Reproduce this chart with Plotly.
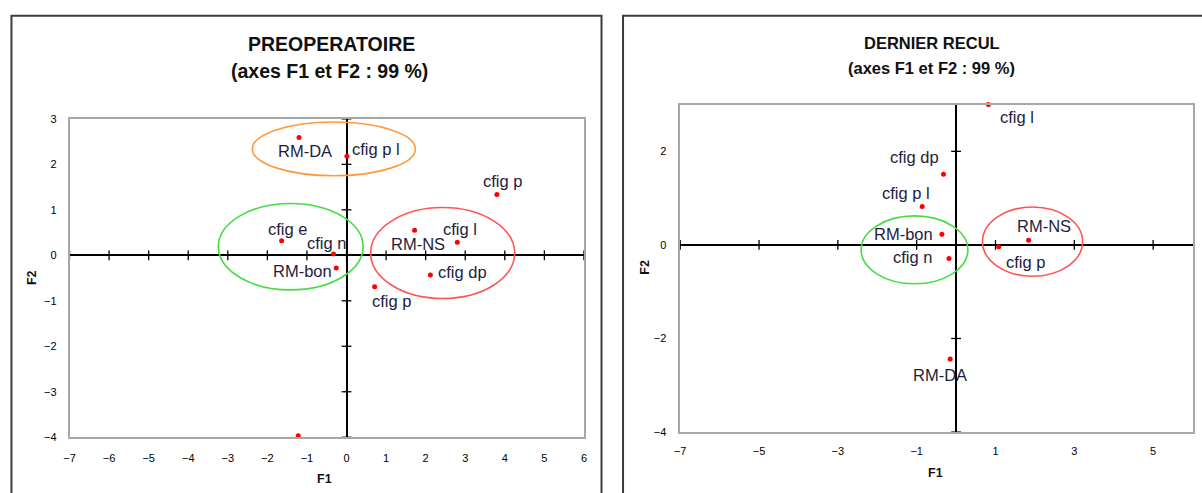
import plotly.graph_objects as go

# ---------------- data ----------------
pre_labels = ["RM-DA", "cfig p l", "cfig p", "cfig e", "cfig n", "RM-bon",
              "RM-NS", "cfig l", "cfig dp", "cfig p", ""]
pre_f1 = [-1.20, 0.01, 3.80, -1.64, -0.33, -0.26, 1.72, 2.80, 2.12, 0.71, -1.22]
pre_f2 = [2.59, 2.18, 1.34, 0.32, 0.03, -0.28, 0.55, 0.29, -0.43, -0.69, -3.97]

rec_labels = ["cfig l", "cfig dp", "cfig p l", "RM-bon", "cfig n", "RM-NS",
              "cfig p", "RM-DA"]
rec_f1 = [0.82, -0.32, -0.86, -0.36, -0.18, 1.84, 1.08, -0.15]
rec_f2 = [3.00, 1.51, 0.82, 0.23, -0.29, 0.10, -0.04, -2.44]

pre_xticks = [-7, -6, -5, -4, -3, -2, -1, 0, 1, 2, 3, 4, 5, 6]
pre_yticks = [-4, -3, -2, -1, 0, 1, 2, 3]
rec_xticks = [-7, -5, -3, -1, 1, 3, 5]
rec_yticks = [-4, -2, 0, 2]

# group ellipses: (x0, x1, y0, y1)
pre_groups = {"orange": (-2.38, 1.74, 1.75, 2.93),
              "green": (-3.24, 0.42, -0.76, 1.14),
              "red": (0.61, 4.25, -0.95, 1.05)}
rec_groups = {"green": (-2.41, 0.30, -0.83, 0.62),
              "red": (0.67, 3.21, -0.67, 0.81)}

# ---------------- styles ----------------
W, H = 1202, 493
pre_offsets = [(6, -13), (29, 7), (6, 13), (6, 12), (-7, 11), (-34, -3),
               (3, -14), (3, 13), (32, 3), (17, -14), (0, 0)]
rec_offsets = [(29, -12), (-29, 17), (-16, 14), (-38, 0), (-36, 1),
               (15, 14), (27, -15), (-10, -16)]
ell_colors = {"orange": "#ff9940", "green": "#44dd44", "red": "#ff5555"}
FONT = "Liberation Sans, Arial, sans-serif"
LABEL_COLOR = "#1e1e3a"

fig = go.Figure()


def add_panel(fx, fy, labels, offsets, xticks, yticks, xa, ya, groups):
    fig.add_trace(go.Scatter(x=xticks, y=[0] * len(xticks), mode="markers",
                             xaxis=xa, yaxis=ya, hoverinfo="skip", cliponaxis=False,
                             marker=dict(symbol="line-ns", size=7,
                                         line=dict(color="black", width=1.3))))
    fig.add_trace(go.Scatter(x=[0] * len(yticks), y=yticks, mode="markers",
                             xaxis=xa, yaxis=ya, hoverinfo="skip", cliponaxis=False,
                             marker=dict(symbol="line-ew", size=7,
                                         line=dict(color="black", width=1.3))))
    fig.add_trace(go.Scatter(x=fx, y=fy, mode="markers", text=labels,
                             xaxis=xa, yaxis=ya, cliponaxis=False,
                             marker=dict(color="#ff0000", size=5)))
    for xv, yv, t, (dx, dy) in zip(fx, fy, labels, offsets):
        if t:
            fig.add_annotation(x=xv, y=yv, xref=xa, yref=ya, text=t,
                               showarrow=False, xshift=dx, yshift=dy,
                               xanchor="center", yanchor="middle",
                               font=dict(family=FONT, size=16.5, color=LABEL_COLOR))
    for name, (x0, x1, y0, y1) in groups.items():
        fig.add_shape(type="circle", xref=xa, yref=ya, x0=x0, x1=x1, y0=y0, y1=y1,
                      line=dict(color=ell_colors[name], width=1.6))


add_panel(pre_f1, pre_f2, pre_labels, pre_offsets, pre_xticks, pre_yticks,
          "x", "y", pre_groups)
add_panel(rec_f1, rec_f2, rec_labels, rec_offsets, rec_xticks, rec_yticks,
          "x2", "y2", rec_groups)

axis_common = dict(showgrid=False, zeroline=True, zerolinecolor="black",
                   zerolinewidth=1.5, showline=True, mirror=True,
                   linecolor="#a8a8a8", linewidth=1.5, ticks="outside",
                   tickcolor="rgba(0,0,0,0)",
                   tickfont=dict(family=FONT, size=11, color="black"),
                   fixedrange=True)

fig.update_layout(
    width=W, height=H, margin=dict(l=0, r=0, t=0, b=0),
    paper_bgcolor="white", plot_bgcolor="white", showlegend=False,
    xaxis=dict(axis_common, domain=[64 / W, 582.3 / W], range=[-7, 6],
               tickvals=pre_xticks, ticklen=10, anchor="y"),
    yaxis=dict(axis_common, domain=[1 - 442 / H, 1 - 115.7 / H], range=[-4, 3],
               tickvals=pre_yticks, ticklen=9, anchor="x"),
    xaxis2=dict(axis_common, domain=[679.3 / W, 1195.5 / W], range=[-7, 6],
                tickvals=rec_xticks, ticklen=8, anchor="y2"),
    yaxis2=dict(axis_common, domain=[1 - 436.7 / H, 1 - 101 / H], range=[-4, 3],
                tickvals=rec_yticks, ticklen=10, anchor="x2"),
)

# panel frames
box = dict(color="#3c3c3c", width=2)
fig.add_shape(type="rect", xref="paper", yref="paper",
              x0=5.5 / W, x1=600 / W, y0=-0.1, y1=1 - 10 / H, line=box)
fig.add_shape(type="rect", xref="paper", yref="paper",
              x0=621.7 / W, x1=1.1, y0=-0.1, y1=1 - 10 / H, line=box)

# titles
def ptext(px, py, text, size, bold=True, angle=0):
    fig.add_annotation(x=px / W, y=1 - py / H, xref="paper", yref="paper",
                       text=f"<b>{text}</b>" if bold else text, showarrow=False,
                       xanchor="center", yanchor="middle", textangle=angle,
                       font=dict(family=FONT, size=size, color="#111111"))

ptext(328, 39, "PREOPERATOIRE", 19.5)
ptext(326, 67, "(axes F1 et F2 : 99 %)", 19.5)
ptext(933, 38, "DERNIER RECUL", 16.5)
ptext(932, 64, "(axes F1 et F2 : 99 %)", 16.5)

# axis titles
ptext(321, 485, "F1", 12.5)
ptext(26, 278, "F2", 12.5, angle=-90)
ptext(937, 479, "F1", 12.5)
ptext(644, 268, "F2", 12.5, angle=-90)

fig.write_html("out.html", config={"displayModeBar": False},
               post_script="document.body.style.margin='0';"
                           "document.body.style.overflow='hidden';")
